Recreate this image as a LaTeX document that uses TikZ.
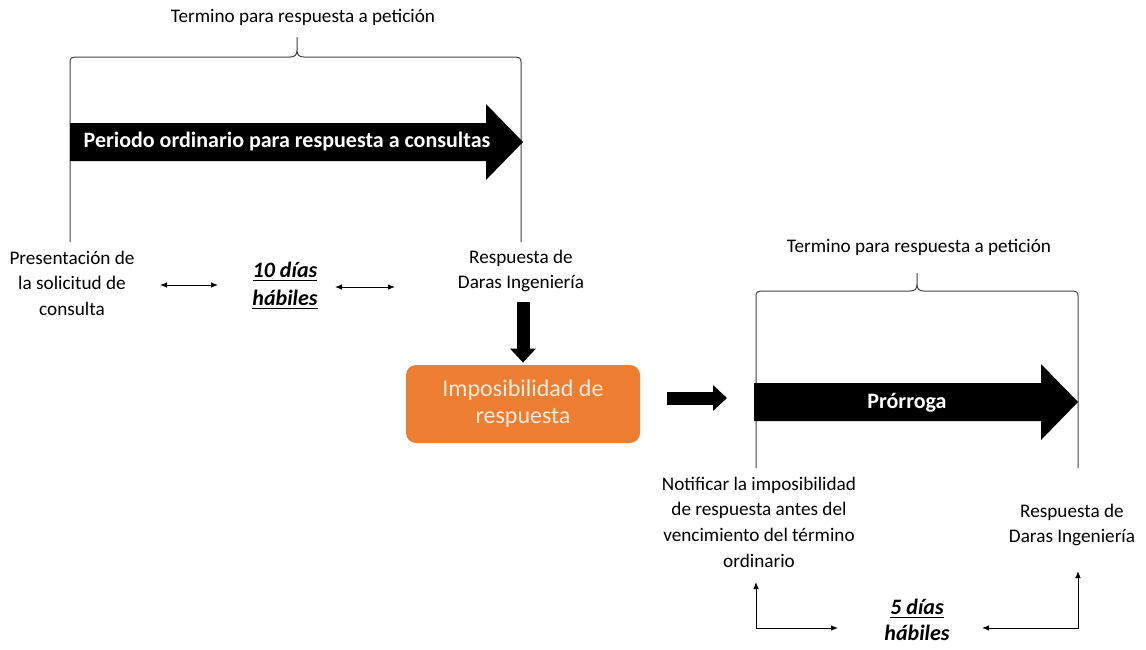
\documentclass[tikz,border=0pt]{standalone}
\usepackage{fontspec}
\setmainfont{Carlito}
\usetikzlibrary{arrows.meta}

\definecolor{boxorange}{RGB}{237,125,49}
\definecolor{boxtext}{RGB}{252,236,224}

\tikzset{
    plain text/.style={align=center, inner sep=0pt, font=\fontsize{9.6}{12.8}\selectfont},
    days text/.style={align=center, inner sep=0pt, font=\fontsize{11}{14}\selectfont\bfseries\itshape},
    arrow text/.style={inner sep=0pt, text=white, font=\fontsize{11}{13}\selectfont\bfseries},
    brace/.style={draw=black!75, line width=0.5pt},
    thin arrow/.style={line width=0.5pt, {Latex[length=3.5pt,width=2.8pt]}-{Latex[length=3.5pt,width=2.8pt]}},
    heavy arrow/.style={line width=6.5pt, -{Triangle[length=7pt,width=12.5pt]}},
}

\begin{document}
\begin{tikzpicture}[x=0.5pt,y=-0.5pt]
    \useasboundingbox (0,0) rectangle (1146,649);

    % Define points
    \coordinate (L1) at (70,242); % left leg, ordinary term
    \coordinate (R1) at (521,242); % right leg, ordinary term
    \coordinate (L2) at (756,468); % left leg, extension
    \coordinate (R2) at (1078,468); % right leg, extension
    \coordinate (A1) at (160,285); % arrows round 10 dias
    \coordinate (A2) at (218,285);
    \coordinate (A3) at (335,287);
    \coordinate (A4) at (395,287);
    \coordinate (D1) at (523,302); % top of the down arrow
    \coordinate (H1) at (667,398); % horizontal arrow
    \coordinate (H2) at (727,398);
    \coordinate (N1) at (756,582); % tips round 5 dias
    \coordinate (N2) at (838,628);
    \coordinate (M1) at (1078,571);
    \coordinate (M2) at (982,628);

    % First brace with its legs
    \draw[brace] (L1) -- (70,62) .. controls (70,58) and (72,57) .. (75,57) -- (290,57)
        .. controls (295,57) and (297,55) .. (297,50) -- (297,37) -- (297,50)
        .. controls (297,55) and (299,57) .. (304,57) -- (516,57)
        .. controls (519,57) and (521,58) .. (521,62) -- (R1);
    \node[plain text] (term1) at (303,17) {Termino para respuesta a petición};

    % Ordinary period arrow
    \fill (70,123) -- (486,123) -- (486,104) -- (523,142) -- (486,180) -- (486,161) -- (70,161) -- cycle;
    \node[arrow text] (period) at (287,142) {Periodo ordinario para respuesta a consultas};

    % Labels under the first term
    \node[plain text] (pres) at (72,283) {Presentación de\\la solicitud de\\consulta};
    \node[days text] (days1) at (285,286) {\underline{10 días}\\\underline{hábiles}};
    \node[plain text] (resp1) at (521,271) {Respuesta de\\Daras Ingeniería};
    \draw[thin arrow] (A1) -- (A2);
    \draw[thin arrow] (A3) -- (A4);

    % Impossibility box
    \node[fill=boxorange, rounded corners=5pt, minimum width=117pt, minimum height=39pt,
        align=center, text=boxtext, font=\fontsize{12}{13.5}\selectfont] (box) at (523,404)
        {Imposibilidad de\\respuesta};
    \draw[heavy arrow] (D1) -- ([yshift=1pt]box.north);
    \draw[heavy arrow] (H1) -- (H2);

    % Second brace with its legs
    \draw[brace] (L2) -- (756,296) .. controls (756,292) and (758,291) .. (761,291) -- (910,291)
        .. controls (915,291) and (917,289) .. (917,284) -- (917,273) -- (917,284)
        .. controls (917,289) and (919,291) .. (924,291) -- (1073,291)
        .. controls (1076,291) and (1078,292) .. (1078,296) -- (R2);
    \node[plain text] (term2) at (919,247) {Termino para respuesta a petición};

    % Extension arrow
    \fill (754,383) -- (1041,383) -- (1041,364) -- (1078,402) -- (1041,440) -- (1041,421) -- (754,421) -- cycle;
    \node[arrow text] (ext) at (907,403) {Prórroga};

    % Labels under the extension
    \node[plain text] (notif) at (759,522) {Notificar la imposibilidad\\de respuesta antes del\\vencimiento del término\\ordinario};
    \node[plain text] (resp2) at (1072,525) {Respuesta de\\Daras Ingeniería};
    \node[days text, font=\fontsize{11}{13}\selectfont\bfseries\itshape] (days2) at (917,620) {\underline{5 días}\\hábiles};
    \draw[thin arrow] (N1) -- (756,628) -- (N2);
    \draw[thin arrow] (M1) -- (1078,628) -- (M2);

\end{tikzpicture}
\end{document}
